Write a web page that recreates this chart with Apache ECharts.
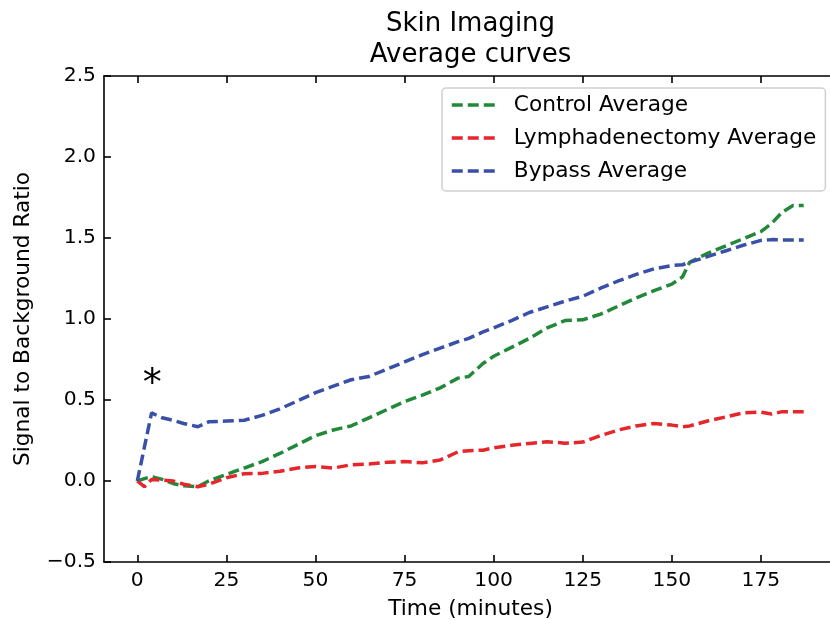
<!DOCTYPE html>
<html>
<head>
<meta charset="utf-8">
<script src="https://cdn.jsdelivr.net/npm/echarts@6/dist/echarts.min.js"></script>
<style>html,body{margin:0;padding:0;background:#fff;}#chart{width:830px;height:620px;}</style>
</head>
<body>
<div id="chart"></div>
<script>
// Time points (minutes)
var times = [0,2,4,7,10,13,17,20,25,30,35,40,45,50,55,60,65,70,75,80,85,90,93,97,100,105,110,115,120,125,130,135,140,145,150,153,155,160,165,170,175,178,181,184,187];
var controlAvg = [0,0.015,0.027,0.01,-0.015,-0.03,-0.035,0.0,0.04,0.08,0.12,0.17,0.225,0.28,0.315,0.34,0.39,0.44,0.49,0.53,0.575,0.635,0.645,0.725,0.77,0.825,0.88,0.945,0.99,0.995,1.03,1.08,1.13,1.175,1.215,1.26,1.35,1.405,1.45,1.495,1.54,1.59,1.66,1.70,1.70];
var lymphAvg = [0,-0.035,0.01,0.005,0.0,-0.02,-0.035,-0.02,0.02,0.045,0.047,0.06,0.08,0.09,0.08,0.1,0.105,0.115,0.12,0.112,0.13,0.18,0.187,0.19,0.205,0.22,0.232,0.243,0.233,0.24,0.28,0.315,0.34,0.355,0.345,0.335,0.34,0.37,0.395,0.42,0.425,0.413,0.428,0.428,0.428];
var bypassAvg = [0,0.21,0.42,0.39,0.375,0.355,0.335,0.365,0.37,0.375,0.405,0.445,0.495,0.545,0.585,0.625,0.645,0.69,0.735,0.78,0.82,0.86,0.88,0.92,0.945,0.99,1.04,1.075,1.11,1.14,1.19,1.235,1.275,1.31,1.33,1.335,1.35,1.385,1.42,1.455,1.485,1.49,1.488,1.488,1.488];
var xTicks = [0,25,50,75,100,125,150,175];
var seriesNames = ['Control Average','Lymphadenectomy Average','Bypass Average'];
var starPos = [4.2, 0.62];

function pairs(ys){ return times.map(function(t,i){ return [t, ys[i]]; }); }
var FONT = 'DejaVu Sans';
var colors = ['#23893a','#e5262a','#3a50a8'];
var dash = [11,5];
function mkSeries(name, ys, color){
  return {
    name: name, type: 'line', data: pairs(ys), showSymbol: false, symbol: 'none',
    lineStyle: { color: color, width: 3.5, type: dash }, itemStyle: { color: color },
    animation: false, z: 3
  };
}
var series = [
  mkSeries(seriesNames[0], controlAvg, colors[0]),
  mkSeries(seriesNames[1], lymphAvg, colors[1]),
  mkSeries(seriesNames[2], bypassAvg, colors[2])
];
series[2].markPoint = {
  symbol: 'circle', symbolSize: 0, animation: false,
  data: [{ coord: starPos, label: { show: true, formatter: '*', fontSize: 38, color: '#000', fontFamily: FONT, position: 'inside', offset: [0, 5] } }]
};

var axisLineStyle = { color: '#000', width: 1.6 };
var chart = echarts.init(document.getElementById('chart'), null, { renderer: 'canvas' });
chart.setOption({
  backgroundColor: '#fff',
  animation: false,
  title: {
    text: 'Skin Imaging\nAverage curves', left: 470.5, textAlign: 'center', top: 9, padding: 0,
    textStyle: { fontFamily: FONT, fontSize: 26, fontWeight: 'normal', color: '#000', lineHeight: 31 }
  },
  legend: {
    orient: 'vertical', left: 442, top: 88,
    data: seriesNames,
    itemWidth: 45, itemHeight: 22, itemGap: 11,
    padding: [6, 9, 9, 8],
    borderColor: '#cfcfcf', borderWidth: 1.5, borderRadius: 4, backgroundColor: '#fff',
    itemStyle: { color: 'transparent', borderWidth: 0, opacity: 0 },
    lineStyle: { width: 3.5, type: dash },
    textStyle: { fontFamily: FONT, fontSize: 21.7, color: '#000', padding: [0,0,0,12] }
  },
  grid: { left: 104, top: 76, right: -7, bottom: 58, containLabel: false, outerBoundsMode: 'none' },
  xAxis: [{
    type: 'value', min: -9.35, max: 196.35, position: 'bottom',
    name: 'Time (minutes)', nameLocation: 'middle', nameGap: 36,
    nameTextStyle: { fontFamily: FONT, fontSize: 21.7, color: '#000' },
    axisLine: { show: true, onZero: false, lineStyle: axisLineStyle },
    axisTick: { show: true, inside: true, length: 7, customValues: xTicks, lineStyle: axisLineStyle },
    axisLabel: { show: true, customValues: xTicks, margin: 9, fontFamily: FONT, fontSize: 20.3, color: '#000' },
    splitLine: { show: false }
  }, {
    type: 'value', min: -9.35, max: 196.35, position: 'top',
    axisLine: { show: true, onZero: false, lineStyle: axisLineStyle },
    axisTick: { show: true, inside: true, length: 7, customValues: xTicks, lineStyle: axisLineStyle },
    axisLabel: { show: false }, splitLine: { show: false }
  }],
  yAxis: [{
    type: 'value', min: -0.5, max: 2.5, interval: 0.5, position: 'left',
    name: 'Signal to Background Ratio', nameLocation: 'middle', nameGap: 70,
    nameTextStyle: { fontFamily: FONT, fontSize: 21.7, color: '#000' },
    axisLine: { show: true, onZero: false, lineStyle: axisLineStyle },
    axisTick: { show: true, inside: true, length: 7, lineStyle: axisLineStyle },
    axisLabel: { margin: 8, fontFamily: FONT, fontSize: 20.3, color: '#000',
      formatter: function(v){ var s = Math.abs(v).toFixed(1); return v < 0 ? '\u2212' + s : s; } },
    splitLine: { show: false }
  }, {
    type: 'value', min: -0.5, max: 2.5, interval: 0.5, position: 'right',
    axisLine: { show: true, onZero: false, lineStyle: axisLineStyle },
    axisTick: { show: true, inside: true, length: 7, lineStyle: axisLineStyle },
    axisLabel: { show: false }, splitLine: { show: false }
  }],
  series: series
});
</script>
</body>
</html>
